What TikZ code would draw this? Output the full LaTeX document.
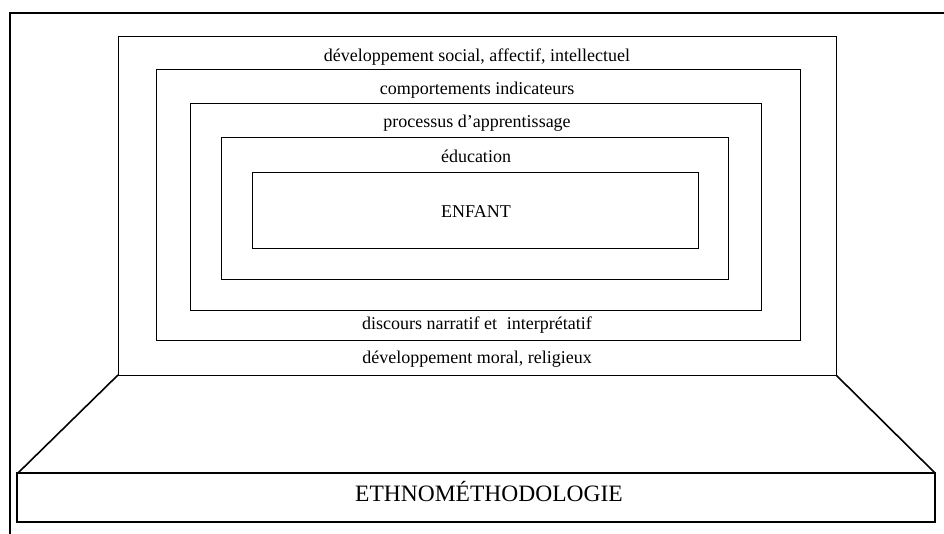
\documentclass[tikz,border=0pt]{standalone}
\usepackage{fontspec}
\setmainfont{Liberation Serif}
\begin{document}
\begin{tikzpicture}[x=1pt,y=-1pt,
  frame/.style={draw=black,line width=1.3pt},
  ring/.style={draw=black,line width=0.9pt},
  slant/.style={draw=black,line width=1.6pt,line join=round},
  lbl/.style={anchor=base,inner sep=0pt,font=\fontsize{18}{20}\selectfont},
  biglbl/.style={anchor=base,inner sep=0pt,font=\fontsize{23.5}{26}\selectfont}]
\useasboundingbox (0,0) rectangle (944,534);
% outer open frame
\draw[frame] (10,534) -- (10,13) -- (944,13);
% nested rectangles
\draw[ring] (118,36) rectangle (836,375);
\draw[ring] (156,69) rectangle (800,340);
\draw[ring] (190,103) rectangle (761,310);
\draw[ring] (221,137) rectangle (728,279);
\draw[ring] (252,172) rectangle (698,248);
% base
\draw[slant] (118,375) -- (18,473);
\draw[slant] (836,375) -- (935,473);
\draw[frame] (17,473) rectangle (935,522);
% labels
\node[lbl] (t1) at (477,62) {développement social, affectif, intellectuel};
\node[lbl] (t2) at (477,95) {comportements indicateurs};
\node[lbl] (t3) at (477,128) {processus d’apprentissage};
\node[lbl] (t4) at (476,163) {éducation};
\node[lbl] (t5) at (476,218) {ENFANT};
\node[lbl] (t6) at (477,329) {discours narratif et\hspace{0.55em}interprétatif};
\node[lbl] (t7) at (477,363) {développement moral, religieux};
\node[biglbl] (t8) at (489,501) {ETHNOMÉTHODOLOGIE};
\end{tikzpicture}
\end{document}
